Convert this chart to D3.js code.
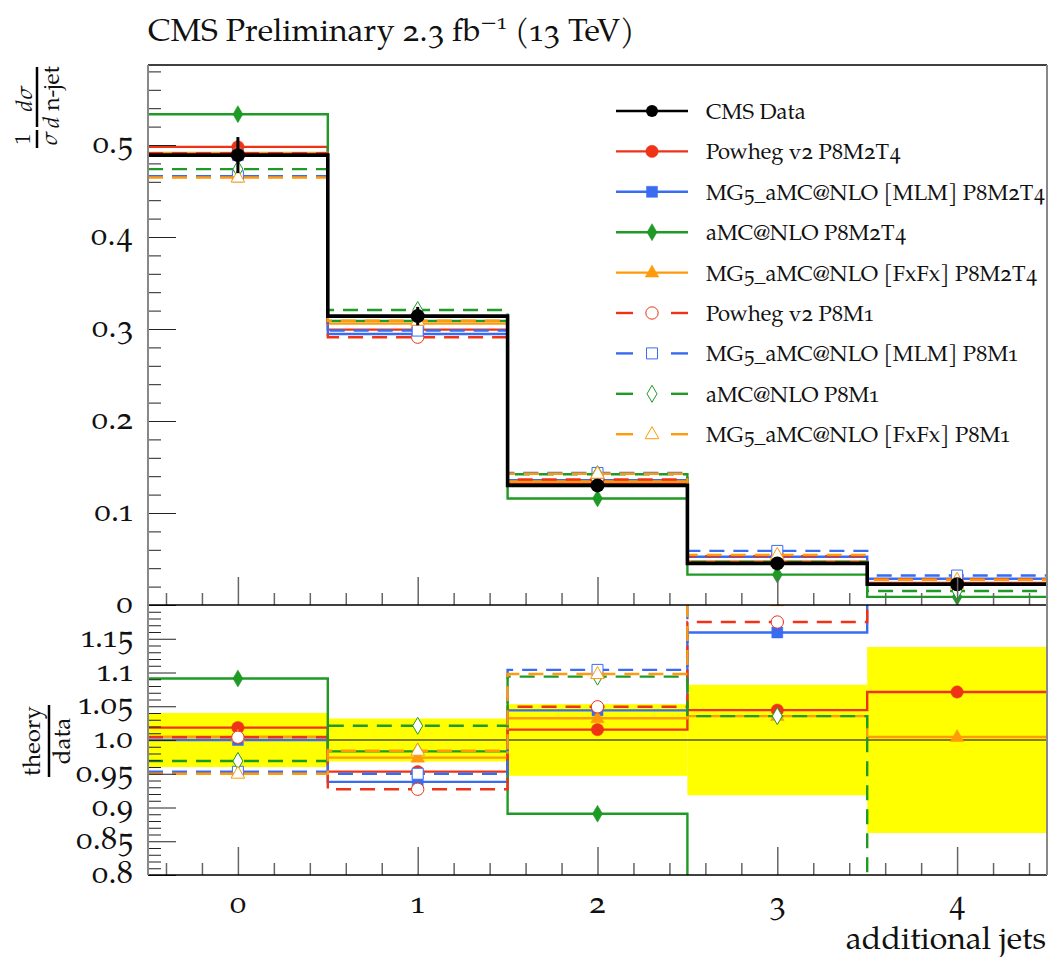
<!DOCTYPE html>
<html>
<head>
<meta charset="utf-8">
<script src="https://cdn.jsdelivr.net/npm/d3@7"></script>
<style>
  body { margin: 0; background: #fff; }
  text { font-family: "TeX Gyre Pagella", "Liberation Serif", serif; fill: #111; font-variant-numeric: oldstyle-nums; }
  text.lining { font-variant-numeric: lining-nums; }
</style>
</head>
<body>
<svg id="chart" width="1052" height="957"></svg>
<script>
// ---- data ----
const nJets = [0, 1, 2, 3, 4];
const xTickLabels = ["0", "1", "2", "3", "4"];
const dataVal = [0.489, 0.314, 0.130, 0.0452, 0.0225];
const dataErr = [0.0196, 0.0100, 0.0069, 0.0037, 0.0031];

const powhegM2T4 = [0.4980, 0.2993, 0.1320, 0.0472, 0.0241];
const mlmM2T4    = [0.4890, 0.2945, 0.1357, 0.0524, 0.0286];
const amcM2T4    = [0.5335, 0.3087, 0.1158, 0.0330, 0.0088];
const fxfxM2T4   = [0.4914, 0.3058, 0.1342, 0.0468, 0.0226];
const powhegM1   = [0.4910, 0.2911, 0.1364, 0.0531, 0.0281];
const mlmM1      = [0.4660, 0.2983, 0.1435, 0.0588, 0.0320];
const amcM1      = [0.4738, 0.3206, 0.1422, 0.0468, 0.0152];
const fxfxM1     = [0.4646, 0.3090, 0.1427, 0.0545, 0.0275];

const topTicks = [0, 0.1, 0.2, 0.3, 0.4, 0.5];
const topTickLabels = ["0", "0.1", "0.2", "0.3", "0.4", "0.5"];
const ratioTicks = [0.8, 0.85, 0.9, 0.95, 1.0, 1.05, 1.1, 1.15];
const ratioTickLabels = ["0.8", "0.85", "0.9", "0.95", "1.0", "1.05", "1.1", "1.15"];

const RED = "#ee3317", BLUE = "#3a6cf2", GREEN = "#1f9a24", ORANGE = "#ff9a0a";

const series = [
  {name: "Powheg v2 P8M2T4",              vals: powhegM2T4, color: RED,    dashed: false, marker: "circle"},
  {name: "MG5_aMC@NLO [MLM] P8M2T4",      vals: mlmM2T4,    color: BLUE,   dashed: false, marker: "square"},
  {name: "aMC@NLO P8M2T4",                vals: amcM2T4,    color: GREEN,  dashed: false, marker: "diamond"},
  {name: "MG5_aMC@NLO [FxFx] P8M2T4",     vals: fxfxM2T4,   color: ORANGE, dashed: false, marker: "triangle"},
  {name: "Powheg v2 P8M1",                vals: powhegM1,   color: RED,    dashed: true,  marker: "circle"},
  {name: "MG5_aMC@NLO [MLM] P8M1",        vals: mlmM1,      color: BLUE,   dashed: true,  marker: "square"},
  {name: "aMC@NLO P8M1",                  vals: amcM1,      color: GREEN,  dashed: true,  marker: "diamond"},
  {name: "MG5_aMC@NLO [FxFx] P8M1",       vals: fxfxM1,     color: ORANGE, dashed: true,  marker: "triangle"}
];

// ---- layout ----
const L = 148, R = 1047, T = 65, MID = 605, B = 875;
const svg = d3.select("#chart");

const x = d3.scaleLinear().domain([-0.5, 4.5]).range([L, R]);
const yTop = d3.scaleLinear().domain([0, (MID - T) / 920]).range([MID, T]);
const yRat = d3.scaleLinear().domain([0.8, 1.2]).range([B, MID]);

const defs = svg.append("defs");
defs.append("clipPath").attr("id", "clipTop").append("rect")
  .attr("x", L).attr("y", T).attr("width", R - L).attr("height", MID - T);
defs.append("clipPath").attr("id", "clipRat").append("rect")
  .attr("x", L).attr("y", MID).attr("width", R - L).attr("height", B - MID);

function stepPoints(vals) {
  const pts = [];
  vals.forEach((v, i) => { pts.push([nJets[i] - 0.5, v]); pts.push([nJets[i] + 0.5, v]); });
  return pts;
}

function markerPath(type) {
  if (type === "circle") return d3.symbol(d3.symbolCircle, 120)();
  if (type === "square") return "M-5.5,-5.5L5.5,-5.5L5.5,5.5L-5.5,5.5Z";
  if (type === "diamond") return "M0,-8.5L5,0L0,8.5L-5,0Z";
  return "M0,-7.5L6.8,4.5L-6.8,4.5Z";
}

function drawMarker(g, s, cx, cy) {
  g.append("path")
    .attr("d", markerPath(s.marker))
    .attr("transform", `translate(${cx},${cy})`)
    .attr("fill", s.dashed ? "#fff" : s.color)
    .attr("stroke", s.color)
    .attr("stroke-width", s.dashed ? 1 : 0.5);
}

// ---- ratio band ----
const ratG = svg.append("g").attr("clip-path", "url(#clipRat)");
ratG.selectAll("rect.band").data(nJets).join("rect")
  .attr("class", "band")
  .attr("x", d => x(d - 0.5)).attr("width", x(1) - x(0))
  .attr("y", (d, i) => yRat(1 + dataErr[i] / dataVal[i]))
  .attr("height", (d, i) => yRat(1 - dataErr[i] / dataVal[i]) - yRat(1 + dataErr[i] / dataVal[i]))
  .attr("fill", "#ffff00");
ratG.append("line").attr("x1", L).attr("x2", R).attr("y1", yRat(1)).attr("y2", yRat(1))
  .attr("stroke", "#000").attr("stroke-width", 1);

// ---- model lines ----
const topG = svg.append("g").attr("clip-path", "url(#clipTop)");
const lineTop = d3.line().x(d => x(d[0])).y(d => yTop(d[1]));
const lineRat = d3.line().x(d => x(d[0])).y(d => yRat(d[1]));

series.forEach(s => {
  const ratio = s.vals.map((v, i) => v / dataVal[i]);
  [[topG, lineTop, s.vals, yTop], [ratG, lineRat, ratio, yRat]].forEach(([g, gen, vals, ys]) => {
    g.append("path")
      .attr("d", gen(stepPoints(vals)))
      .attr("fill", "none")
      .attr("stroke", s.color)
      .attr("stroke-width", 2.4)
      .attr("stroke-dasharray", s.dashed ? "15,9" : null);
    vals.forEach((v, i) => drawMarker(g, s, x(nJets[i]), ys(v)));
  });
});

// ---- data ----
topG.append("path")
  .attr("d", lineTop(stepPoints(dataVal)))
  .attr("fill", "none").attr("stroke", "#000").attr("stroke-width", 3.6);
topG.selectAll("line.err").data(nJets).join("line")
  .attr("class", "err")
  .attr("x1", d => x(d)).attr("x2", d => x(d))
  .attr("y1", (d, i) => yTop(dataVal[i] - dataErr[i]))
  .attr("y2", (d, i) => yTop(dataVal[i] + dataErr[i]))
  .attr("stroke", "#000").attr("stroke-width", 3);
topG.selectAll("circle.pt").data(nJets).join("circle")
  .attr("class", "pt")
  .attr("cx", d => x(d)).attr("cy", (d, i) => yTop(dataVal[i]))
  .attr("r", 7).attr("fill", "#000");

// ---- axes / ticks ----
const xMinor = d3.range(-0.4, 4.5, 0.2).map(v => +v.toFixed(1)).filter(v => Math.abs(v - Math.round(v)) > 1e-6);
const noDomain = g => g.select(".domain").remove();

[MID, B].forEach(yy => {
  svg.append("g").attr("transform", `translate(0,${yy})`)
    .call(d3.axisTop(x).tickValues(xMinor).tickSize(12).tickFormat(""))
    .call(noDomain).selectAll("line").attr("stroke", "#666").attr("stroke-width", 1.5);
  svg.append("g").attr("transform", `translate(0,${yy})`)
    .call(d3.axisTop(x).tickValues(nJets).tickSize(28).tickFormat(""))
    .call(noDomain).selectAll("line").attr("stroke", "#666").attr("stroke-width", 1.5);
});

const topMinor = d3.range(0.02, 0.59, 0.02).map(v => +v.toFixed(2)).filter(v => Math.abs(v * 10 - Math.round(v * 10)) > 1e-6);
svg.append("g").attr("transform", `translate(${L},0)`)
  .call(d3.axisRight(yTop).tickValues(topMinor).tickSize(13).tickFormat(""))
  .call(noDomain).selectAll("line").attr("stroke", "#222");
svg.append("g").attr("transform", `translate(${L},0)`)
  .call(d3.axisRight(yTop).tickValues(topTicks).tickSize(28).tickFormat(""))
  .call(noDomain).selectAll("line").attr("stroke", "#222");

const ratMinor = d3.range(0.81, 1.2, 0.01).map(v => +v.toFixed(2)).filter(v => Math.abs(v * 20 - Math.round(v * 20)) > 1e-6);
svg.append("g").attr("transform", `translate(${L},0)`)
  .call(d3.axisRight(yRat).tickValues(ratMinor).tickSize(13).tickFormat(""))
  .call(noDomain).selectAll("line").attr("stroke", "#222");
svg.append("g").attr("transform", `translate(${L},0)`)
  .call(d3.axisRight(yRat).tickValues(ratioTicks).tickSize(28).tickFormat(""))
  .call(noDomain).selectAll("line").attr("stroke", "#222");

// tick labels
svg.selectAll("text.ytop").data(topTicks).join("text")
  .attr("class", "ytop").attr("x", 133).attr("y", d => yTop(d) + 8)
  .attr("text-anchor", "end").attr("font-size", 32).text((d, i) => topTickLabels[i]);
svg.selectAll("text.yrat").data(ratioTicks).join("text")
  .attr("class", "yrat").attr("x", 133).attr("y", d => yRat(d) + 8)
  .attr("text-anchor", "end").attr("font-size", 32).text((d, i) => ratioTickLabels[i]);
svg.selectAll("text.xlab").data(nJets).join("text")
  .attr("class", "xlab").attr("x", d => x(d)).attr("y", 913)
  .attr("text-anchor", "middle").attr("font-size", 32).text((d, i) => xTickLabels[i]);

// frame
const frame = svg.append("g");
[T, MID, B].forEach(yy => frame.append("line")
  .attr("x1", L).attr("x2", R).attr("y1", yy).attr("y2", yy).attr("stroke", "#000").attr("stroke-width", 1.3));
[L, R].forEach(xx => frame.append("line")
  .attr("x1", xx).attr("x2", xx).attr("y1", T).attr("y2", B).attr("stroke", "#888").attr("stroke-width", 2));

// ---- titles ----
const title = svg.append("text").attr("x", 148).attr("y", 41).attr("font-size", 32);
title.append("tspan").text("CMS Preliminary 2.3 fb");
title.append("tspan").attr("dy", -12).attr("font-size", 22).text("\u22121");
title.append("tspan").attr("dy", 12).text(" (13 TeV)");

svg.append("text").attr("x", 1046).attr("y", 949).attr("text-anchor", "end")
  .attr("font-size", 32).text("additional jets");

// y label top: 1/sigma dsigma / d n-jet
const yl = svg.append("g").attr("transform", "translate(37,148) rotate(-90)");
yl.append("line").attr("x1", 0).attr("x2", 18).attr("y1", 0).attr("y2", 0).attr("stroke", "#000").attr("stroke-width", 2.5);
yl.append("line").attr("x1", 21).attr("x2", 81).attr("y1", 0).attr("y2", 0).attr("stroke", "#000").attr("stroke-width", 2.5);
yl.append("text").attr("class", "lining").attr("x", 9).attr("y", -7).attr("text-anchor", "middle").attr("font-size", 22).text("1");
yl.append("text").attr("x", 9).attr("y", 20).attr("text-anchor", "middle").attr("font-size", 23)
  .attr("font-style", "italic").text("\u03c3");
yl.append("text").attr("x", 49).attr("y", -5).attr("text-anchor", "middle").attr("font-size", 23)
  .attr("font-style", "italic").text("d\u03c3");
const den = yl.append("text").attr("x", 51).attr("y", 22).attr("text-anchor", "middle").attr("font-size", 23);
den.append("tspan").attr("font-style", "italic").text("d ");
den.append("tspan").text("n-jet");

// ratio label theory / data
const rl = svg.append("g").attr("transform", "translate(49,777) rotate(-90)");
rl.append("line").attr("x1", 0).attr("x2", 72).attr("y1", 0).attr("y2", 0).attr("stroke", "#000").attr("stroke-width", 2.5);
rl.append("text").attr("x", 36).attr("y", -9).attr("text-anchor", "middle").attr("font-size", 24).text("theory");
rl.append("text").attr("x", 36).attr("y", 21).attr("text-anchor", "middle").attr("font-size", 24).text("data");

// ---- legend ----
const leg = svg.append("g");
const rowY = i => 111 + i * 40.4;
leg.append("line").attr("x1", 616).attr("x2", 688).attr("y1", rowY(0)).attr("y2", rowY(0))
  .attr("stroke", "#000").attr("stroke-width", 2.4);
leg.append("circle").attr("cx", 652).attr("cy", rowY(0)).attr("r", 6).attr("fill", "#000");
leg.append("text").attr("x", 706).attr("y", rowY(0) + 8).attr("font-size", 22).text("CMS Data");
series.forEach((s, k) => {
  const yy = rowY(k + 1);
  if (s.dashed) {
    leg.append("line").attr("x1", 616).attr("x2", 633).attr("y1", yy).attr("y2", yy).attr("stroke", s.color).attr("stroke-width", 2.4);
    leg.append("line").attr("x1", 671).attr("x2", 688).attr("y1", yy).attr("y2", yy).attr("stroke", s.color).attr("stroke-width", 2.4);
  } else {
    leg.append("line").attr("x1", 616).attr("x2", 688).attr("y1", yy).attr("y2", yy).attr("stroke", s.color).attr("stroke-width", 2.4);
  }
  drawMarker(leg, s, 652, yy);
  leg.append("text").attr("x", 706).attr("y", yy + 8).attr("font-size", 22).text(s.name);
});
</script>
</body>
</html>
